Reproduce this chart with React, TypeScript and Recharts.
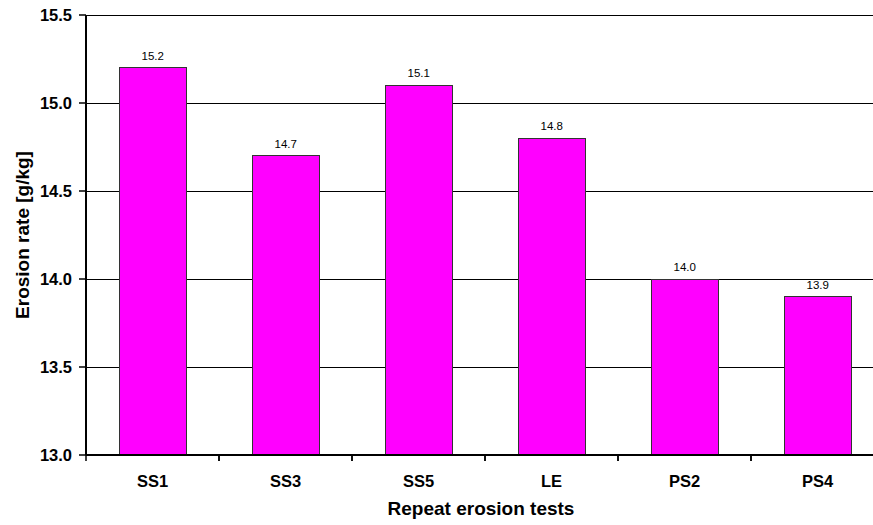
import React from 'react'
import { BarChart, Bar, XAxis, YAxis, CartesianGrid, LabelList } from 'recharts'

const tests = ['SS1', 'SS3', 'SS5', 'LE', 'PS2', 'PS4']
const erosionRate = [15.2, 14.7, 15.1, 14.8, 14.0, 13.9]
const yTicks = [13.0, 13.5, 14.0, 14.5, 15.0, 15.5]

const data = tests.map((name, i) => ({ name, rate: erosionRate[i] }))

const FONT = '"Liberation Sans", Arial, sans-serif'

// category label + small tick marks on the band edges (Excel style)
const CategoryTick = (props: any) => {
  const { x, payload } = props
  const half = payload?.offset ?? 66.5
  const axisY = 455
  return (
    <g>
      <line x1={x - half} y1={axisY} x2={x - half} y2={axisY + 6} stroke="#000" strokeWidth={1.5} />
      <line x1={x + half} y1={axisY} x2={x + half} y2={axisY + 6} stroke="#000" strokeWidth={1.5} />
      <text
        x={x}
        y={axisY + 32}
        textAnchor="middle"
        fontSize={16.5}
        fontWeight="bold"
        fontFamily={FONT}
        fill="#000"
      >
        {payload.value}
      </text>
    </g>
  )
}

export default function App() {
  return (
    <div
      style={{
        position: 'fixed',
        left: 0,
        top: 0,
        width: 873,
        height: 525,
        overflow: 'hidden',
        background: '#fff',
      }}
    >
      <style>{'.recharts-cartesian-grid line, .recharts-rectangle { shape-rendering: crispEdges; }'}</style>
      <BarChart
        width={890}
        height={525}
        data={data}
        margin={{ top: 15, right: 6, bottom: 0, left: 26 }}
        barCategoryGap="25%"
        style={{ fontFamily: FONT }}
      >
        <CartesianGrid horizontal vertical={false} stroke="#000" strokeWidth={1} />
        <XAxis
          dataKey="name"
          height={70}
          axisLine={{ stroke: '#000', strokeWidth: 2 }}
          tickLine={false}
          tick={<CategoryTick />}
          interval={0}
          label={{
            value: 'Repeat erosion tests',
            position: 'center',
            dy: 18,
            dx: -4,
            fontSize: 19,
            fontWeight: 'bold',
            fill: '#000',
            fontFamily: FONT,
          }}
        />
        <YAxis
          width={60}
          domain={[13, 15.5]}
          ticks={yTicks}
          interval={0}
          tickFormatter={(v: number) => v.toFixed(1)}
          axisLine={{ stroke: '#000', strokeWidth: 2 }}
          tickLine={{ stroke: '#000', strokeWidth: 1.5 }}
          tickSize={7}
          tickMargin={7}
          tick={{ fontSize: 16.5, fontWeight: 'bold', fill: '#000', fontFamily: FONT }}
          label={{
            value: 'Erosion rate [g/kg]',
            angle: -90,
            position: 'center',
            dx: -34,
            fontSize: 19,
            fontWeight: 'bold',
            fill: '#000',
            fontFamily: FONT,
          }}
        />
        <Bar dataKey="rate" fill="#FF00FF" stroke="#333" strokeWidth={1} isAnimationActive={false}>
          <LabelList
            dataKey="rate"
            position="top"
            offset={8}
            formatter={(v: any) => Number(v).toFixed(1)}
            style={{ fontSize: 11.5, fill: '#000', fontFamily: FONT }}
          />
        </Bar>
      </BarChart>
    </div>
  )
}
